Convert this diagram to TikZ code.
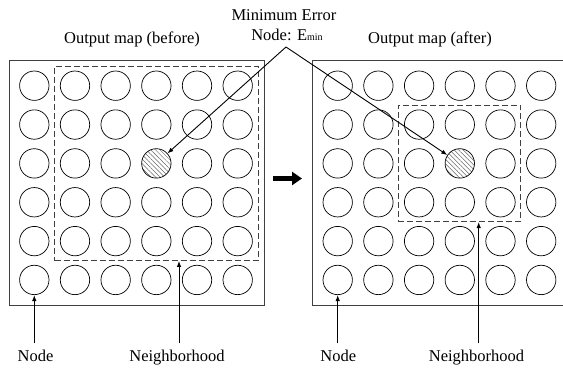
\documentclass[tikz,border=0pt]{standalone}
\usepackage{fontspec}
\setmainfont{Liberation Serif}
\usetikzlibrary{arrows.meta,patterns.meta}

\begin{document}
\begin{tikzpicture}[x=1pt,y=-1pt,
  cell/.style={circle,draw=black,line width=0.7pt,minimum size=29.4pt,inner sep=0pt},
  winner/.style={cell,pattern={Lines[angle=-45,distance=3.2pt,line width=0.5pt]},pattern color=black!60},
  mapframe/.style={draw=black!75,line width=1pt},
  hood/.style={draw=black!75,line width=0.9pt,dash pattern=on 6pt off 3pt,inner sep=0pt},
  lbl/.style={font=\fontsize{16.5}{19}\selectfont,inner sep=0pt,anchor=base},
  pointer/.style={line width=0.9pt,-{Latex[length=6pt,width=4.5pt]}},
  bigarrow/.style={line width=5pt,-{Triangle[length=10pt,width=13pt]}}]
\useasboundingbox (0,0) rectangle (563,370);
\clip (0,0) rectangle (563,370);

% map frames (the right one runs past the page edge)
\draw[mapframe] (9,60.5) rectangle (264,305);
\draw[mapframe] (312,60.5) rectangle (567,305);

% 6x6 grids of map nodes
\foreach \r in {1,...,6}{
  \foreach \c in {1,...,6}{
    \pgfmathsetmacro{\yy}{85.7+38.85*(\r-1)}
    \pgfmathsetmacro{\xl}{34.3+40.68*(\c-1)}
    \pgfmathsetmacro{\xr}{337.7+40.7*(\c-1)}
    \ifnum\r=3 \ifnum\c=4
      \node[winner] (L-\r-\c) at (\xl,\yy) {};
      \node[winner] (R-\r-\c) at (\xr,\yy) {};
    \else
      \node[cell] (L-\r-\c) at (\xl,\yy) {};
      \node[cell] (R-\r-\c) at (\xr,\yy) {};
    \fi\else
      \node[cell] (L-\r-\c) at (\xl,\yy) {};
      \node[cell] (R-\r-\c) at (\xr,\yy) {};
    \fi
  }
}

% neighbourhoods around the winning node
\node[hood,minimum width=203.4pt,minimum height=194.2pt] (hoodL) at (156.3,163.4) {};
\node[hood,minimum width=122.8pt,minimum height=116.5pt] (hoodR) at (459.4,163.35) {};

% titles
\node[lbl] (titleL) at (132,43) {Output map (before)};
\node[lbl] (titleR) at (430,43) {Output map (after)};
\node[lbl] (minerr) at (284,20) {Minimum Error};
\node[lbl] (emin) at (287,40) {Node: E\raisebox{-0.5pt}{\fontsize{10}{10}\selectfont min}};

% bottom labels
\node[lbl] (nodeL) at (35.5,361) {Node};
\node[lbl] (nbL) at (177,361) {Neighborhood};
\node[lbl] (nodeR) at (338.3,361) {Node};
\node[lbl] (nbR) at (476.5,361) {Neighborhood};

% pointers
\coordinate (apex) at (286,47);
\draw[pointer] (apex) -- (L-3-4);
\draw[pointer] (apex) -- (R-3-4);

\coordinate (tNL) at (34.3,343);
\coordinate (tHL) at (179,343);
\coordinate (tNR) at (337.7,343);
\coordinate (tHR) at (478.7,343);
\draw[pointer] (tNL) -- (L-6-1);
\draw[pointer] (tHL) -- (tHL |- hoodL.south);
\draw[pointer] (tNR) -- (R-6-1);
\draw[pointer] (tHR) -- (tHR |- hoodR.south);

% step arrow between the two maps
\coordinate (stepA) at (273,178.5);
\coordinate (stepB) at (302,178.5);
\draw[bigarrow] (stepA) -- (stepB);
\end{tikzpicture}
\end{document}
